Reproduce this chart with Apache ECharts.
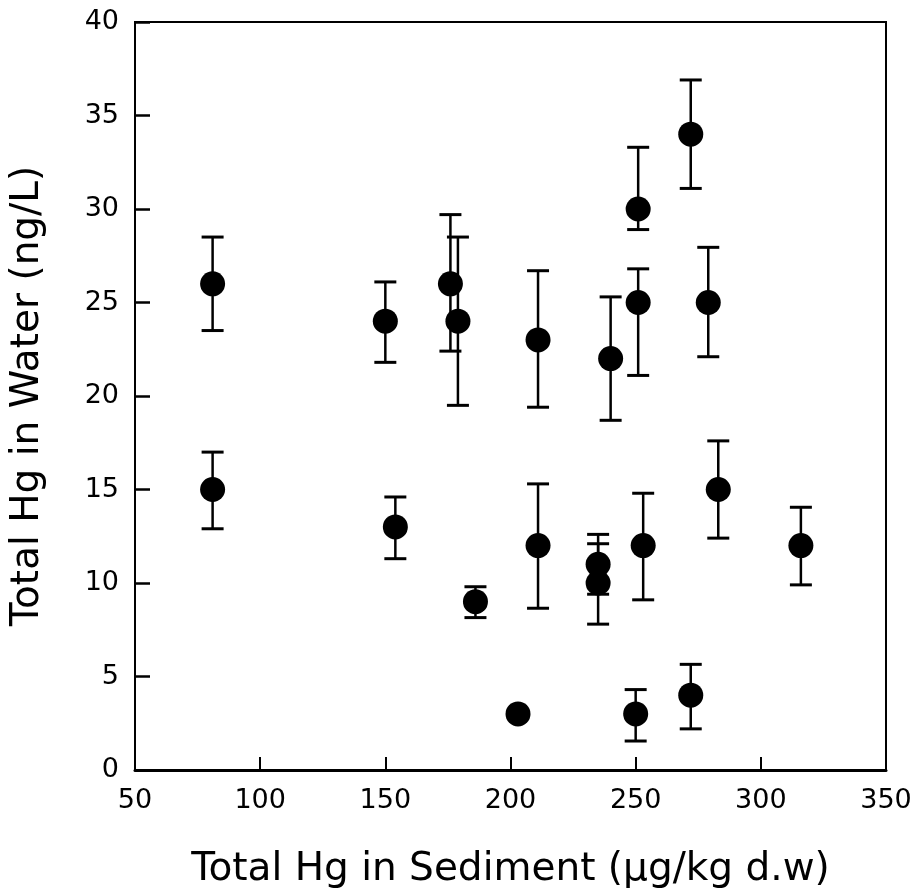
<!DOCTYPE html>
<html>
<head>
<meta charset="utf-8">
<script src="https://cdn.jsdelivr.net/npm/echarts@6/dist/echarts.min.js"></script>
<style>
  html, body { margin: 0; padding: 0; background: #fff; }
  #chart { width: 920px; height: 894px; }
</style>
</head>
<body>
<div id="chart"></div>
<script>
// Total Hg in sediment (x) vs total Hg in water (y), with error bar ends
const sedimentHg = [81, 81, 150, 154, 176, 179, 186, 203, 211, 211, 235, 235, 240, 251, 251, 250, 253, 272, 272, 279, 283, 316]
const waterHg    = [26, 15, 24, 13, 26, 24, 9, 3, 23, 12, 11, 10, 22, 30, 25, 3, 12, 34, 4, 25, 15, 12]
const errLow     = [23.5, 12.9, 21.8, 11.3, 22.4, 19.5, 8.15, null, 19.4, 8.65, 9.4, 7.8, 18.7, 28.9, 21.1, 1.55, 9.1, 31.1, 2.2, 22.1, 12.4, 9.9]
const errHigh    = [28.5, 17.0, 26.1, 14.6, 29.7, 28.5, 9.8, null, 26.7, 15.3, 12.6, 12.1, 25.3, 33.3, 26.8, 4.3, 14.8, 36.9, 5.65, 27.95, 17.6, 14.05]

const xTicks = [50, 100, 150, 200, 250, 300, 350]
const yTicks = [0, 5, 10, 15, 20, 25, 30, 35, 40]

const points = sedimentHg.map((x, i) => [x, waterHg[i]])
const bars = sedimentHg
    .map((x, i) => [x, errLow[i], errHigh[i]])
    .filter(d => d[1] != null)

const myChart = echarts.init(document.getElementById('chart'))

const option = {
    backgroundColor: '#fff',
    animation: false,
    grid: {
        left: 134,
        right: 34,
        top: 22,
        bottom: 121,
        show: true,
        borderColor: '#000',
        borderWidth: 2,
    },
    xAxis: {
        type: 'value',
        min: xTicks[0],
        max: xTicks[xTicks.length - 1],
        interval: 50,
        name: 'Total Hg in Sediment (μg/kg d.w)',
        nameLocation: 'middle',
        nameGap: 80,
        nameTextStyle: { color: '#000', fontSize: 39, fontFamily: 'DejaVu Sans' },
        axisLine: { lineStyle: { color: '#000', width: 3 } },
        axisTick: { inside: true, length: 13, lineStyle: { color: '#000', width: 2 } },
        axisLabel: { color: '#000', fontSize: 27, margin: 17, fontFamily: 'DejaVu Sans' },
        splitLine: { show: false },
    },
    yAxis: {
        type: 'value',
        min: yTicks[0],
        max: yTicks[yTicks.length - 1],
        interval: 5,
        name: 'Total Hg in Water (ng/L)',
        nameLocation: 'middle',
        nameGap: 88,
        nameTextStyle: { color: '#000', fontSize: 39, fontFamily: 'DejaVu Sans' },
        axisLine: { lineStyle: { color: '#000', width: 2 } },
        axisTick: { inside: true, length: 15, lineStyle: { color: '#000', width: 2.5 } },
        axisLabel: { color: '#000', fontSize: 27, margin: 16, fontFamily: 'DejaVu Sans' },
        splitLine: { show: false },
    },
    series: [
        {
            // error bars
            type: 'custom',
            z: 2,
            data: bars,
            renderItem: (params, api) => {
                const lo = api.coord([api.value(0), api.value(1)])
                const hi = api.coord([api.value(0), api.value(2)])
                const half = 11
                const style = { stroke: '#000', lineWidth: 2.5 }
                return {
                    type: 'group',
                    children: [
                        { type: 'line', shape: { x1: lo[0], y1: lo[1], x2: hi[0], y2: hi[1] }, style },
                        { type: 'line', shape: { x1: lo[0] - half, y1: lo[1], x2: lo[0] + half, y2: lo[1] }, style: { stroke: '#000', lineWidth: 3 } },
                        { type: 'line', shape: { x1: hi[0] - half, y1: hi[1], x2: hi[0] + half, y2: hi[1] }, style: { stroke: '#000', lineWidth: 3 } },
                    ]
                }
            }
        },
        {
            type: 'scatter',
            z: 3,
            symbol: 'circle',
            symbolSize: 25,
            itemStyle: { color: '#000', opacity: 1 },
            data: points,
        }
    ]
}

option && myChart.setOption(option)
</script>
</body>
</html>
